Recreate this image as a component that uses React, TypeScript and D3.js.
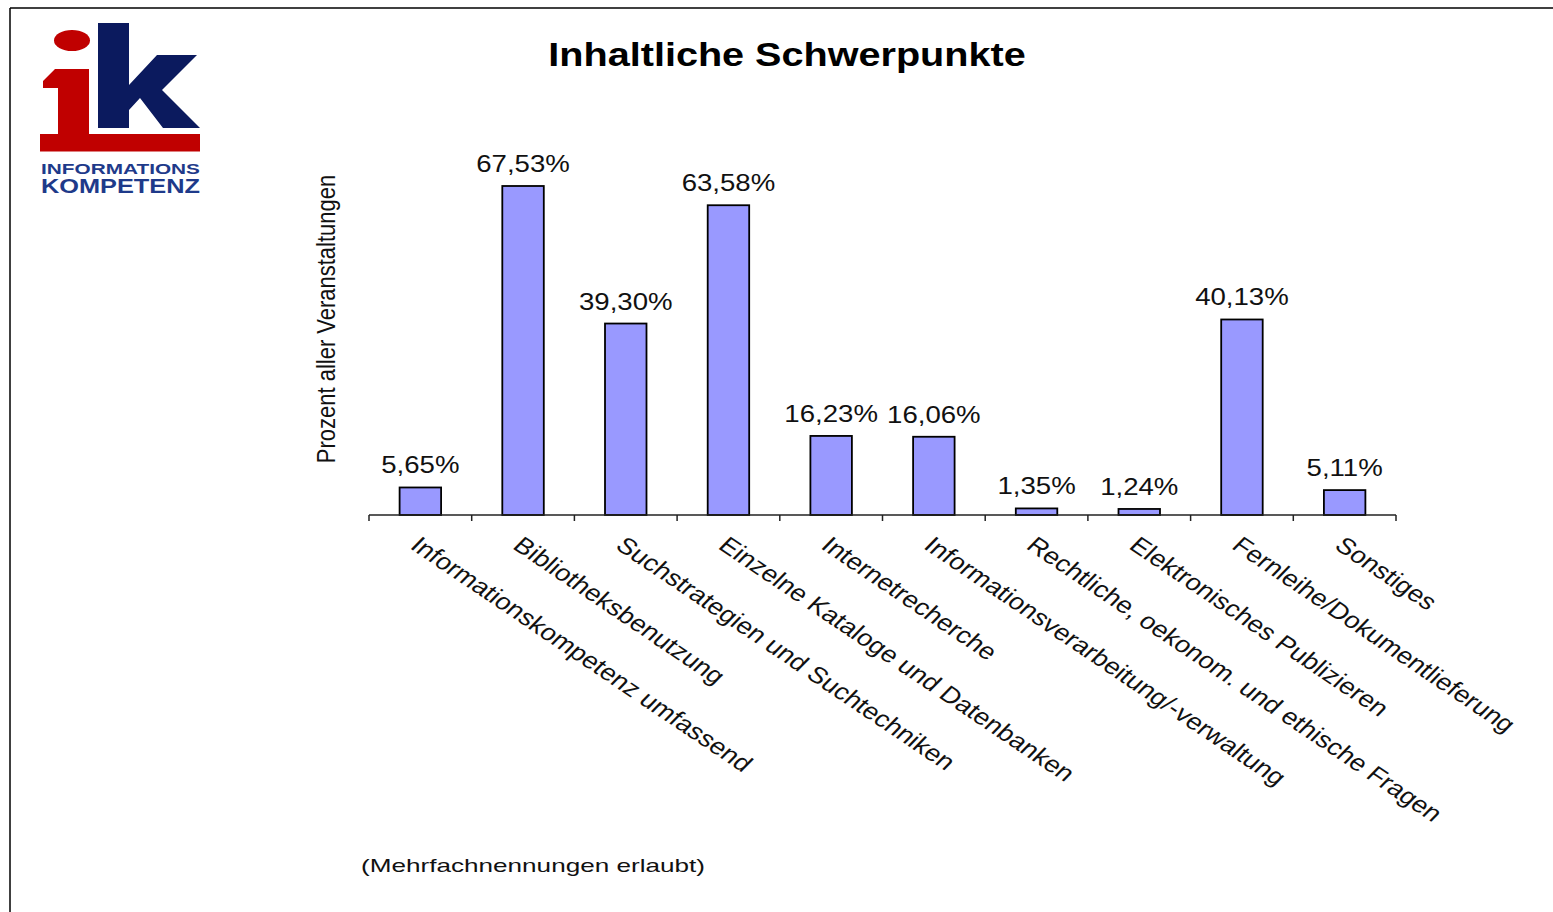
import React from "react";
import * as d3 from "d3";

// ---- data ----
const categories: string[] = [
  "Informationskompetenz umfassend",
  "Bibliotheksbenutzung",
  "Suchstrategien und Suchtechniken",
  "Einzelne Kataloge und Datenbanken",
  "Internetrecherche",
  "Informationsverarbeitung/-verwaltung",
  "Rechtliche, oekonom. und ethische Fragen",
  "Elektronisches Publizieren",
  "Fernleihe/Dokumentlieferung",
  "Sonstiges",
];
const values: number[] = [5.65, 67.53, 39.3, 63.58, 16.23, 16.06, 1.35, 1.24, 40.13, 5.11];
const yDomain: number[] = [0, 70];
const titleText = "Inhaltliche Schwerpunkte";
const yAxisTitle = "Prozent aller Veranstaltungen";
const footnoteText = "(Mehrfachnennungen erlaubt)";
const logoLines: string[] = ["INFORMATIONS", "KOMPETENZ"];

// ---- layout / style ----
const W = 1553;
const H = 912;
const SX = 1.2; // horizontal stretch of the original picture
const FONT = "'Liberation Sans', Arial, Helvetica, sans-serif";
const BAR_FILL = "#9999FF";
const RED = "#C00000";
const NAVY = "#0B1A5E";
const LOGO_BLUE = "#1E3A8A";
const LABEL_SIZE = 23;
const CAT_ANGLE = 39;

const locale = d3.formatLocale({ decimal: ",", thousands: ".", grouping: [3], currency: ["", "€"] });
const fmt = locale.format(".2f");

export default function App() {
  const plotLeft = 369;
  const plotRight = 1396;
  const baseY = 515;
  const x = d3
    .scaleBand<string>()
    .domain(categories)
    .range([plotLeft, plotRight])
    .paddingInner(0.596)
    .paddingOuter(0.298);
  const y = d3.scaleLinear().domain(yDomain).range([baseY, baseY - 70 * 4.872]);
  const step = x.step();
  const bw = x.bandwidth();
  const tickXs = d3.range(categories.length + 1).map((i) => plotLeft + i * step);

  const capH = LABEL_SIZE * 0.716;
  const rad = (CAT_ANGLE * Math.PI) / 180;
  const offX = SX * capH * Math.sin(rad);
  const offY = capH * Math.cos(rad);

  return (
    <svg
      width={W}
      height={H}
      viewBox={`0 0 ${W} ${H}`}
      style={{ position: "absolute", left: 0, top: 0, background: "#fff" }}
      fontFamily={FONT}
    >
      <rect x={0} y={0} width={W} height={H} fill="#fff" />
      {/* frame */}
      <line x1={10} y1={8} x2={W} y2={8} stroke="#000" strokeWidth={1.5} />
      <line x1={10} y1={8} x2={10} y2={H} stroke="#000" strokeWidth={1.5} />

      {/* logo */}
      <g>
        <ellipse cx={72} cy={40.5} rx={18} ry={10.5} fill={RED} />
        <path d="M43,81 L55,69 L89,69 L89,136 L58,136 L58,88 L43,88 Z" fill={RED} />
        <rect x={40} y={134} width={160} height={17.5} fill={RED} />
        <rect x={98} y={23} width={31} height={105} fill={NAVY} />
        <path d="M129,85 L157,55 L197,55 L162,90 L200,128 L163,128 L140,98 L129,110 Z" fill={NAVY} />
        <text x={41} y={174} fontSize={15} fontWeight="bold" fill={LOGO_BLUE} textLength={159} lengthAdjust="spacingAndGlyphs">
          {logoLines[0]}
        </text>
        <text x={41} y={193} fontSize={19.5} fontWeight="bold" fill={LOGO_BLUE} textLength={159} lengthAdjust="spacingAndGlyphs">
          {logoLines[1]}
        </text>
      </g>

      {/* title */}
      <text
        transform={`translate(787,66) scale(${SX},1)`}
        textAnchor="middle"
        fontSize={33}
        fontWeight="bold"
        fill="#000"
      >
        {titleText}
      </text>

      {/* y axis title */}
      <text
        transform={`translate(335,319) scale(${SX},1) rotate(-90)`}
        textAnchor="middle"
        fontSize={22}
        fill="#111"
      >
        {yAxisTitle}
      </text>

      {/* bars */}
      {categories.map((c, i) => (
        <rect
          key={c}
          x={x(c)}
          y={y(values[i])}
          width={bw}
          height={y(0) - y(values[i])}
          fill={BAR_FILL}
          stroke="#000"
          strokeWidth={1.8}
        />
      ))}

      {/* value labels */}
      {categories.map((c, i) => (
        <text
          key={c + "-v"}
          transform={`translate(${(x(c) as number) + bw / 2},${y(values[i]) - 14}) scale(${SX},1)`}
          textAnchor="middle"
          fontSize={LABEL_SIZE}
          fill="#111"
        >
          {fmt(values[i]) + "%"}
        </text>
      ))}

      {/* x axis */}
      <line x1={plotLeft} y1={baseY} x2={plotRight} y2={baseY} stroke="#222" strokeWidth={1.5} />
      {tickXs.map((tx, i) => (
        <line key={"t" + i} x1={tx} y1={baseY} x2={tx} y2={baseY + 6} stroke="#222" strokeWidth={1.5} />
      ))}

      {/* category labels */}
      {categories.map((c) => {
        const cx = (x(c) as number) + bw / 2;
        return (
          <text
            key={c + "-c"}
            transform={`translate(${cx + 1 - offX},${535 + offY}) scale(${SX},1) rotate(${CAT_ANGLE})`}
            fontSize={LABEL_SIZE}
            fill="#111"
          >
            {c}
          </text>
        );
      })}

      {/* footnote */}
      <text x={361} y={872} fontSize={19} fill="#111" textLength={344} lengthAdjust="spacingAndGlyphs">
        {footnoteText}
      </text>
    </svg>
  );
}
